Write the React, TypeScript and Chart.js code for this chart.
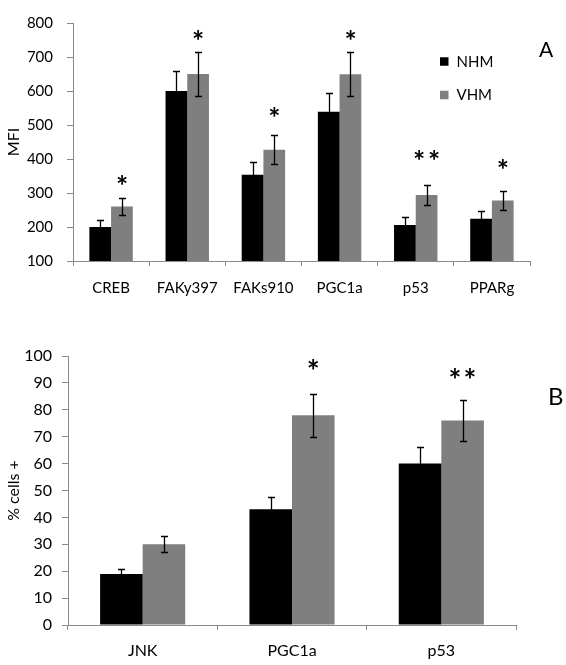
import React, { useEffect, useRef } from "react";
import { Chart, registerables } from "chart.js";

Chart.register(...registerables);

const FONT = "Lato, 'Open Sans', sans-serif";
const AXIS_COLOR = "#8a8a8a";

// ---- shared series ----
const seriesNames = ["NHM", "VHM"];
const seriesColors = ["#000000", "#7f7f7f"];

// ---- Panel A (MFI) ----
const mfiCategories = ["CREB", "FAKy397", "FAKs910", "PGC1a", "p53", "PPARg"];
const mfiNHM = [200, 600, 354, 539, 206, 224];
const mfiNHMErr = [20, 60, 36, 54, 22, 24];
const mfiVHM = [260, 650, 427, 649, 294, 278];
const mfiVHMErr = [26, 65, 43, 65, 29, 29];
const mfiSig = ["*", "*", "*", "*", "**", "*"];
const mfiSigLevel = [337, 764, 538, 764, 412, 386];
const mfiMin = 100;
const mfiMax = 800;
const mfiStep = 100;

// ---- Panel B (% cells +) ----
const pctCategories = ["JNK", "PGC1a", "p53"];
const pctNHM = [19, 43, 60];
const pctNHMErr = [2, 4.5, 6];
const pctVHM = [30, 78, 76];
const pctVHMErr = [3, 8, 7.6];
const pctSig = ["", "*", "**"];
const pctSigLevel = [0, 97, 93.4];
const pctMin = 0;
const pctMax = 100;
const pctStep = 10;

type OverlayCfg = {
  errors: number[][];
  sig: string[];
  sigLevel: number[];
  starSize: number;
  starGap: number;
  legend?: { x: number; y: number; rowGap: number; size: number; font: number };
  letter: { text: string; x: number; y: number; size: number };
};

function drawStar(ctx: CanvasRenderingContext2D, cx: number, cy: number, size: number) {
  ctx.font = `bold 100px ${FONT}`;
  const m = ctx.measureText("*");
  const w = (m.actualBoundingBoxLeft + m.actualBoundingBoxRight) || 40;
  const fs = (100 * size) / w;
  ctx.font = `bold ${fs}px ${FONT}`;
  const m2 = ctx.measureText("*");
  ctx.textAlign = "left";
  ctx.textBaseline = "alphabetic";
  const gx = cx - (m2.actualBoundingBoxRight - m2.actualBoundingBoxLeft) / 2;
  const gy = cy + (m2.actualBoundingBoxAscent - m2.actualBoundingBoxDescent) / 2;
  ctx.fillText("*", gx, gy);
}

function makeOverlay(cfg: OverlayCfg) {
  return {
    id: "overlay",
    afterDatasetsDraw(chart: any) {
      const ctx: CanvasRenderingContext2D = chart.ctx;
      const yScale = chart.scales.y;
      ctx.save();
      // error bars
      ctx.strokeStyle = "#000000";
      ctx.lineWidth = 1.3;
      chart.data.datasets.forEach((ds: any, di: number) => {
        const meta = chart.getDatasetMeta(di);
        meta.data.forEach((bar: any, i: number) => {
          const v = ds.data[i];
          const e = cfg.errors[di][i];
          const x = Math.round(bar.x) + 0.5;
          const yt = Math.round(yScale.getPixelForValue(v + e)) + 0.5;
          const yb = Math.round(yScale.getPixelForValue(v - e)) + 0.5;
          ctx.beginPath();
          ctx.moveTo(x, yt);
          ctx.lineTo(x, yb);
          ctx.moveTo(x - 3.5, yt);
          ctx.lineTo(x + 3.5, yt);
          ctx.moveTo(x - 3.5, yb);
          ctx.lineTo(x + 3.5, yb);
          ctx.stroke();
        });
      });
      // significance stars
      ctx.fillStyle = "#000";
      const meta1 = chart.getDatasetMeta(1);
      cfg.sig.forEach((s, i) => {
        if (!s) return;
        const cx = meta1.data[i].x;
        const cy = yScale.getPixelForValue(cfg.sigLevel[i]);
        const n = s.length;
        for (let k = 0; k < n; k++) {
          drawStar(ctx, cx + (k - (n - 1) / 2) * cfg.starGap, cy, cfg.starSize);
        }
      });
      // legend
      if (cfg.legend) {
        const L = cfg.legend;
        chart.data.datasets.forEach((ds: any, di: number) => {
          const cy = L.y + di * L.rowGap;
          ctx.fillStyle = ds.backgroundColor;
          ctx.fillRect(L.x, cy - L.size / 2, L.size, L.size);
          ctx.fillStyle = "#000";
          ctx.font = `${L.font}px ${FONT}`;
          ctx.textAlign = "left";
          ctx.textBaseline = "alphabetic";
          ctx.fillText(ds.label, L.x + L.size + 8, cy + L.font * 0.36);
        });
      }
      // panel letter
      ctx.fillStyle = "#000";
      ctx.font = `${cfg.letter.size}px ${FONT}`;
      ctx.textAlign = "left";
      ctx.textBaseline = "alphabetic";
      ctx.fillText(cfg.letter.text, cfg.letter.x, cfg.letter.y);
      ctx.restore();
    },
  };
}

type PanelProps = {
  top: number;
  height: number;
  labels: string[];
  nhm: number[];
  vhm: number[];
  errors: number[][];
  min: number;
  max: number;
  step: number;
  yTitle: string;
  yTitleSize: number;
  tickSize: number;
  xTickSize: number;
  yWidth: number;
  xHeight: number;
  padTop: number;
  padRight: number;
  yTickPad: number;
  xTickPad: number;
  overlay: OverlayCfg;
};

function BarPanel(p: PanelProps) {
  const ref = useRef<HTMLCanvasElement>(null);
  useEffect(() => {
    if (!ref.current) return;
    const chart = new Chart(ref.current, {
      type: "bar",
      data: {
        labels: p.labels,
        datasets: [
          {
            label: seriesNames[0],
            data: p.nhm,
            backgroundColor: seriesColors[0],
            categoryPercentage: 0.57,
            barPercentage: 1,
          },
          {
            label: seriesNames[1],
            data: p.vhm,
            backgroundColor: seriesColors[1],
            categoryPercentage: 0.57,
            barPercentage: 1,
          },
        ],
      },
      options: {
        responsive: false,
        animation: false,
        layout: { padding: { left: 0, top: p.padTop, right: p.padRight, bottom: 0 } },
        plugins: {
          legend: { display: false },
          tooltip: { enabled: false },
        },
        scales: {
          x: {
            grid: {
              display: true,
              drawOnChartArea: false,
              tickLength: 5,
              color: AXIS_COLOR,
              offset: true,
            },
            border: { display: true, color: AXIS_COLOR, width: 1 },
            ticks: {
              font: { family: FONT, size: p.xTickSize },
              color: "#000",
              padding: p.xTickPad,
              maxRotation: 0,
              autoSkip: false,
            },
            afterFit: (s: any) => {
              s.height = p.xHeight;
            },
          },
          y: {
            min: p.min,
            max: p.max,
            grid: {
              display: true,
              drawOnChartArea: false,
              tickLength: 6,
              color: AXIS_COLOR,
            },
            border: { display: true, color: AXIS_COLOR, width: 1 },
            ticks: {
              stepSize: p.step,
              font: { family: FONT, size: p.tickSize },
              color: "#000",
              padding: p.yTickPad,
            },
            title: {
              display: true,
              text: p.yTitle,
              color: "#000",
              font: { family: FONT, size: p.yTitleSize },
              padding: { top: 4, bottom: 4 },
            },
            afterFit: (s: any) => {
              s.width = p.yWidth;
            },
          },
        },
      },
      plugins: [makeOverlay(p.overlay)],
    } as any);
    return () => chart.destroy();
  }, []);
  return (
    <canvas
      ref={ref}
      width={566}
      height={p.height}
      style={{ position: "absolute", left: 0, top: p.top, width: 566, height: p.height, display: "block" }}
    />
  );
}

export default function App() {
  useEffect(() => {
    document.body.style.margin = "0";
    document.body.style.background = "#ffffff";
  }, []);
  return (
    <div style={{ position: "relative", width: 566, height: 665, background: "#fff", overflow: "hidden" }}>
      <BarPanel
        top={0}
        height={300}
        labels={mfiCategories}
        nhm={mfiNHM}
        vhm={mfiVHM}
        errors={[mfiNHMErr, mfiVHMErr]}
        min={mfiMin}
        max={mfiMax}
        step={mfiStep}
        yTitle="MFI"
        yTitleSize={16}
        tickSize={15}
        xTickSize={15}
        yWidth={73}
        xHeight={39}
        padTop={11}
        padRight={36}
        yTickPad={14}
        xTickPad={13}
        overlay={{
          errors: [mfiNHMErr, mfiVHMErr],
          sig: mfiSig,
          sigLevel: mfiSigLevel,
          starSize: 9.5,
          starGap: 15,
          legend: { x: 440, y: 61.5, rowGap: 33.5, size: 8.5, font: 15 },
          letter: { text: "A", x: 539, y: 56.7, size: 21 },
        }}
      />
      <BarPanel
        top={330}
        height={335}
        labels={pctCategories}
        nhm={pctNHM}
        vhm={pctVHM}
        errors={[pctNHMErr, pctVHMErr]}
        min={pctMin}
        max={pctMax}
        step={pctStep}
        yTitle="% cells +"
        yTitleSize={16}
        tickSize={16}
        xTickSize={16}
        yWidth={68}
        xHeight={40}
        padTop={26}
        padRight={50}
        yTickPad={10}
        xTickPad={11}
        overlay={{
          errors: [pctNHMErr, pctVHMErr],
          sig: pctSig,
          sigLevel: pctSigLevel,
          starSize: 10,
          starGap: 15,
          letter: { text: "B", x: 548, y: 75, size: 24 },
        }}
      />
    </div>
  );
}
